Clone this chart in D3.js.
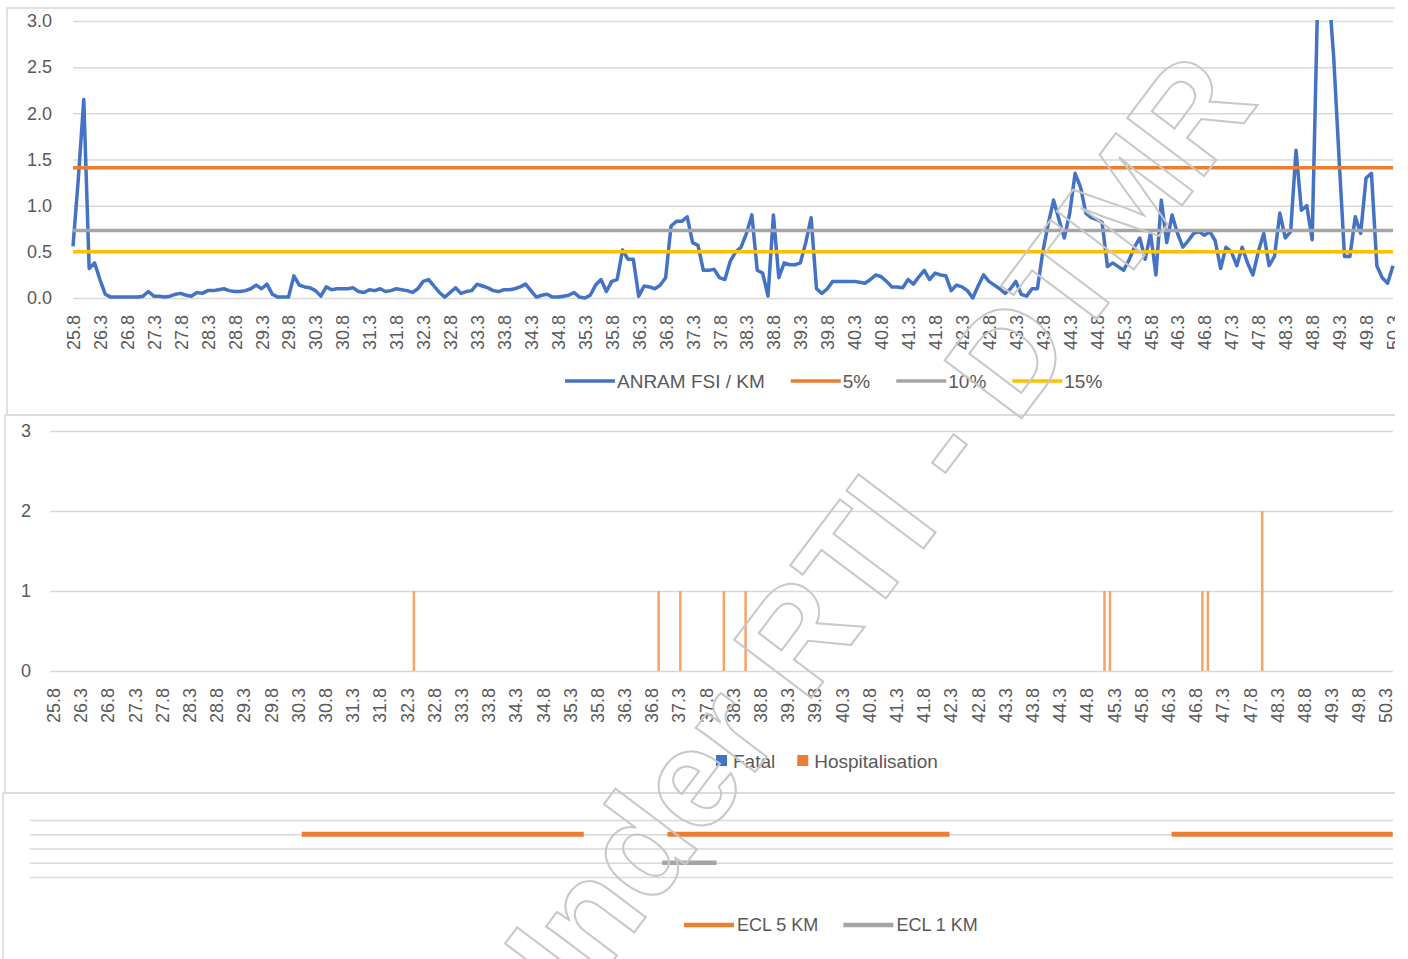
<!DOCTYPE html>
<html><head><meta charset="utf-8">
<script src="https://cdn.jsdelivr.net/npm/d3@7/dist/d3.min.js"></script>
<style>
body{margin:0;background:#fff}
svg text{font-family:"Liberation Sans",Arial,sans-serif;fill:#595959}
</style>
</head><body>
<svg id="chart" width="1408" height="959"></svg>
<script>
// ---------- DATA ----------
const kmCategories = [
25.8,25.9,
26.0,26.1,26.2,26.3,26.4,26.5,26.6,26.7,26.8,26.9,
27.0,27.1,27.2,27.3,27.4,27.5,27.6,27.7,27.8,27.9,
28.0,28.1,28.2,28.3,28.4,28.5,28.6,28.7,28.8,28.9,
29.0,29.1,29.2,29.3,29.4,29.5,29.6,29.7,29.8,29.9,
30.0,30.1,30.2,30.3,30.4,30.5,30.6,30.7,30.8,30.9,
31.0,31.1,31.2,31.3,31.4,31.5,31.6,31.7,31.8,31.9,
32.0,32.1,32.2,32.3,32.4,32.5,32.6,32.7,32.8,32.9,
33.0,33.1,33.2,33.3,33.4,33.5,33.6,33.7,33.8,33.9,
34.0,34.1,34.2,34.3,34.4,34.5,34.6,34.7,34.8,34.9,
35.0,35.1,35.2,35.3,35.4,35.5,35.6,35.7,35.8,35.9,
36.0,36.1,36.2,36.3,36.4,36.5,36.6,36.7,36.8,36.9,
37.0,37.1,37.2,37.3,37.4,37.5,37.6,37.7,37.8,37.9,
38.0,38.1,38.2,38.3,38.4,38.5,38.6,38.7,38.8,38.9,
39.0,39.1,39.2,39.3,39.4,39.5,39.6,39.7,39.8,39.9,
40.0,40.1,40.2,40.3,40.4,40.5,40.6,40.7,40.8,40.9,
41.0,41.1,41.2,41.3,41.4,41.5,41.6,41.7,41.8,41.9,
42.0,42.1,42.2,42.3,42.4,42.5,42.6,42.7,42.8,42.9,
43.0,43.1,43.2,43.3,43.4,43.5,43.6,43.7,43.8,43.9,
44.0,44.1,44.2,44.3,44.4,44.5,44.6,44.7,44.8,44.9,
45.0,45.1,45.2,45.3,45.4,45.5,45.6,45.7,45.8,45.9,
46.0,46.1,46.2,46.3,46.4,46.5,46.6,46.7,46.8,46.9,
47.0,47.1,47.2,47.3,47.4,47.5,47.6,47.7,47.8,47.9,
48.0,48.1,48.2,48.3,48.4,48.5,48.6,48.7,48.8,48.9,
49.0,49.1,49.2,49.3,49.4,49.5,49.6,49.7,49.8,49.9,
50.0,50.1,50.2,50.3
];
// ANRAM FSI / KM, one value per category
const fsiPerKm = [
0.56,1.3,2.15,0.32,0.38,0.2,0.04,0.01,0.01,0.01,
0.01,0.01,0.01,0.02,0.07,0.02,0.02,0.01,0.02,0.04,
0.05,0.03,0.02,0.06,0.05,0.08,0.08,0.09,0.1,0.08,
0.07,0.07,0.08,0.1,0.14,0.1,0.15,0.04,0.01,0.01,
0.01,0.24,0.14,0.12,0.11,0.08,0.02,0.12,0.09,0.1,
0.1,0.1,0.11,0.07,0.06,0.09,0.08,0.1,0.07,0.08,
0.1,0.09,0.08,0.06,0.1,0.18,0.2,0.13,0.06,0.01,
0.06,0.11,0.05,0.07,0.08,0.15,0.13,0.11,0.08,0.07,
0.09,0.09,0.1,0.12,0.15,0.08,0.01,0.03,0.04,0.01,
0.01,0.02,0.03,0.06,0.01,0.0,0.03,0.14,0.2,0.07,
0.18,0.2,0.52,0.42,0.42,0.02,0.13,0.12,0.1,0.14,
0.22,0.78,0.83,0.83,0.88,0.6,0.57,0.3,0.3,0.31,
0.22,0.2,0.4,0.5,0.55,0.7,0.9,0.3,0.27,0.02,
0.9,0.22,0.38,0.36,0.36,0.38,0.6,0.87,0.1,0.05,
0.1,0.18,0.18,0.18,0.18,0.18,0.17,0.16,0.2,0.25,
0.23,0.18,0.12,0.12,0.11,0.2,0.15,0.23,0.3,0.2,
0.27,0.25,0.24,0.08,0.14,0.12,0.08,0.0,0.13,0.25,
0.18,0.14,0.1,0.05,0.1,0.18,0.04,0.02,0.1,0.1,
0.5,0.8,1.06,0.85,0.65,0.92,1.35,1.2,0.92,0.87,
0.85,0.82,0.34,0.38,0.34,0.3,0.41,0.55,0.65,0.42,
0.7,0.25,1.06,0.6,0.9,0.7,0.55,0.62,0.7,0.72,
0.68,0.72,0.62,0.32,0.55,0.5,0.35,0.55,0.38,0.25,
0.5,0.7,0.35,0.45,0.92,0.65,0.72,1.6,0.95,1.0,
0.63,3.2,3.6,3.4,2.6,1.5,0.45,0.45,0.88,0.7,
1.3,1.35,0.35,0.22,0.16,0.35
];
const thresholdNames  = ["5%", "10%", "15%"];
const thresholdValues = [1.41, 0.73, 0.50];
const topYTicks = [0, 0.5, 1, 1.5, 2, 2.5, 3];

const crashSeries = ["Fatal", "Hospitalisation"];
const fatalKm = [];
const fatalCount = [];
const hospKm = [32.4, 36.9, 37.3, 38.1, 38.5, 45.1, 45.2, 46.9, 47.0, 48.0];
const hospCount = [1, 1, 1, 1, 1, 1, 1, 1, 1, 2];
const midYTicks = [0, 1, 2, 3];

const eclNames = ["ECL 5 KM", "ECL 1 KM"];
const eclLevels = [3, 1];
const ecl5Start = [30.7, 37.3, 46.4];
const ecl5End   = [35.7, 42.3, 50.3];
const ecl1Start = [37.2];
const ecl1End   = [38.1];
const botYTicks = [0, 1, 2, 3, 4];

// ---------- STYLE ----------
const C = {blue:"#4472C4", orange:"#ED7D31", gray:"#A5A5A5", yellow:"#FFC000",
           grid:"#d9d9d9", border:"#d9d9d9", bar:"#F4A46C"};
const key = d => d.toFixed(1);
const keys = kmCategories.map(key);
const labelKeys = keys.filter((k, i) => i % 5 === 0);

const svg = d3.select("#chart");
svg.append("defs").append("clipPath").attr("id","pageclip")
  .append("rect").attr("x",0).attr("y",0).attr("width",1395).attr("height",959);
svg.select("defs").append("clipPath").attr("id","topclip")
  .append("rect").attr("x",60).attr("y",20).attr("width",1340).attr("height",300);
const root = svg.append("g").attr("clip-path","url(#pageclip)");

// panel borders
[[7,8,1500,407],[5,415,1500,378],[3,793,1500,200]].forEach(p=>{
  root.append("rect").attr("x",p[0]).attr("y",p[1]).attr("width",p[2]).attr("height",p[3])
    .attr("fill","none").attr("stroke",C.border).attr("stroke-width",1.5);
});

function styleGrid(g){
  g.select(".domain").remove();
  g.selectAll(".tick line").attr("stroke",C.grid).attr("stroke-width",1.5);
}
function rotateLabels(g){
  g.select(".domain").remove();
  g.selectAll(".tick line").remove();
  g.selectAll(".tick text")
    .attr("transform","rotate(-90)").attr("text-anchor","end")
    .attr("x",-17).attr("y",0).attr("dy","0.36em")
    .style("font-size","18px").style("fill","#595959");
}

// ---------- TOP CHART ----------
const xTop = d3.scalePoint().domain(keys).range([73, 1393]);
const yTop = d3.scaleLinear().domain([0, 3]).range([298, 21]);

root.append("g").attr("transform","translate(73,0)")
  .call(d3.axisLeft(yTop).tickValues(topYTicks).tickSize(-1320).tickPadding(21).tickFormat(d3.format(".1f")))
  .call(styleGrid)
  .call(g=>g.selectAll(".tick text").style("font-size","18px").style("fill","#595959"));

root.append("g").attr("transform","translate(0,298)")
  .call(d3.axisBottom(xTop).tickValues(labelKeys))
  .call(rotateLabels);

const topPlot = root.append("g").attr("clip-path","url(#topclip)");
const lineTop = d3.line().x((d,i)=>xTop(keys[i])).y(d=>yTop(d));
topPlot.append("path").datum(fsiPerKm).attr("d",lineTop)
  .attr("fill","none").attr("stroke",C.blue).attr("stroke-width",3.5)
  .attr("stroke-linejoin","round");
const thrColors = [C.orange, C.gray, C.yellow];
thresholdValues.forEach((v,j)=>{
  topPlot.append("path").datum(keys.map(()=>v))
    .attr("d",lineTop).attr("fill","none").attr("stroke",thrColors[j]).attr("stroke-width",3.5);
});

// top legend
const topLegendNames = ["ANRAM FSI / KM"].concat(thresholdNames);
const topLegendColors = [C.blue].concat(thrColors);
let lx = 565;
topLegendNames.forEach((n,j)=>{
  root.append("line").attr("x1",lx).attr("x2",lx+50).attr("y1",381).attr("y2",381)
    .attr("stroke",topLegendColors[j]).attr("stroke-width",3.5);
  const t = root.append("text").attr("x",lx+52).attr("y",381).attr("dy","0.35em")
    .style("font-size","19px").text(n);
  lx += 52 + t.node().getComputedTextLength() + 26;
});

// ---------- MIDDLE CHART ----------
const xMid = d3.scaleBand().domain(keys).range([50.9, 1388.7]);
const xSub = d3.scaleBand().domain(crashSeries).range([0, xMid.bandwidth()]).padding(0.05);
const yMid = d3.scaleLinear().domain([0, 3]).range([671, 431]);

root.append("g").attr("transform","translate(50,0)")
  .call(d3.axisLeft(yMid).tickValues(midYTicks).tickSize(-1343).tickPadding(19).tickFormat(d3.format("d")))
  .call(styleGrid)
  .call(g=>g.selectAll(".tick text").style("font-size","18px").style("fill","#595959"));

root.append("g").attr("transform","translate(0,671)")
  .call(d3.axisBottom(xMid).tickValues(labelKeys))
  .call(rotateLabels);

const crashData = [
  {name:"Fatal", km:fatalKm, count:fatalCount, color:C.blue},
  {name:"Hospitalisation", km:hospKm, count:hospCount, color:C.bar}
];
crashData.forEach(s=>{
  root.append("g").selectAll("rect").data(s.km.map((k,i)=>({k:key(k), v:s.count[i]})))
    .join("rect")
    .attr("x",d=>xMid(d.k)+xSub(s.name))
    .attr("width",xSub.bandwidth())
    .attr("y",d=>yMid(d.v))
    .attr("height",d=>yMid(0)-yMid(d.v))
    .attr("fill",s.color);
});

// middle legend
let mx = 716;
crashSeries.forEach((n,j)=>{
  root.append("rect").attr("x",mx).attr("y",755).attr("width",11).attr("height",11)
    .attr("fill", j===0 ? C.blue : C.orange);
  const t = root.append("text").attr("x",mx+17).attr("y",761).attr("dy","0.35em")
    .style("font-size","19px").text(n);
  mx += 17 + t.node().getComputedTextLength() + 22;
});

// ---------- BOTTOM CHART ----------
const xBot = d3.scaleBand().domain(keys).range([30, 1393]);
const xc = km => xBot(key(km)) + xBot.bandwidth()/2;
const yBot = d3.scaleLinear().domain([0, 4]).range([877, 820]);

root.append("g").attr("transform","translate(30,0)")
  .call(d3.axisLeft(yBot).tickValues(botYTicks).tickSize(-1363).tickFormat(""))
  .call(styleGrid);

const eclData = [
  {starts:ecl5Start, ends:ecl5End, level:eclLevels[0], color:C.orange, w:5},
  {starts:ecl1Start, ends:ecl1End, level:eclLevels[1], color:C.gray, w:4.5}
];
eclData.forEach(s=>{
  s.starts.forEach((st,i)=>{
    root.append("line")
      .attr("x1",xc(st)).attr("x2",xc(s.ends[i]))
      .attr("y1",yBot(s.level)).attr("y2",yBot(s.level))
      .attr("stroke",s.color).attr("stroke-width",s.w).attr("stroke-linecap","square");
  });
});

// bottom legend
let bx = 684;
eclNames.forEach((n,j)=>{
  root.append("line").attr("x1",bx).attr("x2",bx+50).attr("y1",925).attr("y2",925)
    .attr("stroke", j===0 ? C.orange : C.gray).attr("stroke-width",4.5);
  const t = root.append("text").attr("x",bx+53).attr("y",925).attr("dy","0.35em")
    .style("font-size","18px").text(n);
  bx += 53 + t.node().getComputedTextLength() + 25;
});

// ---------- WATERMARK ----------
root.append("text")
  .attr("transform","translate(899,581) rotate(-53)")
  .attr("text-anchor","middle")
  .style("font-size","140px").style("font-weight","bold")
  .style("fill","none").style("stroke","#c8c8c8").style("stroke-width",2)
  .text("Under RTI - DTMR");
</script>
</body></html>
